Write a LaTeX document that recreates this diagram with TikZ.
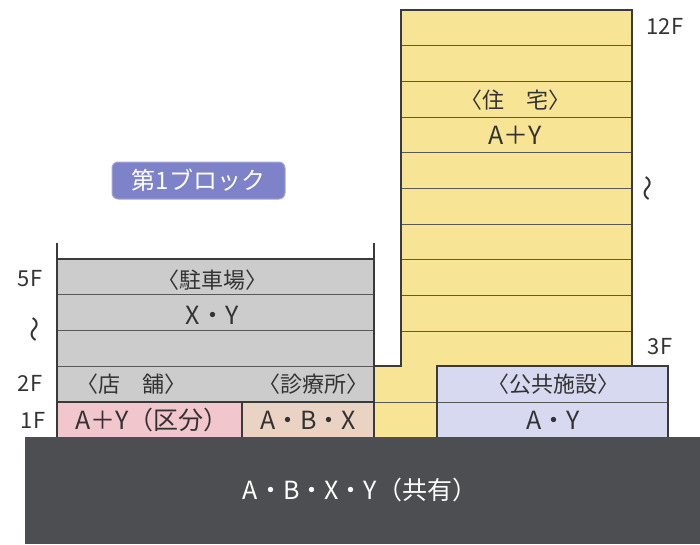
\documentclass[tikz,border=0pt]{standalone}
\usepackage{fontspec}
\setmainfont{Noto Sans CJK JP}
\definecolor{towerc}{HTML}{F8E495}
\definecolor{parkc}{HTML}{CBCCCB}
\definecolor{pinkc}{HTML}{F2C6CD}
\definecolor{beigec}{HTML}{EBD3C3}
\definecolor{lavc}{HTML}{D7D9F1}
\definecolor{basec}{HTML}{4C4E51}
\definecolor{badgec}{HTML}{7E82C9}
\definecolor{linec}{HTML}{3A3A3A}
\definecolor{txtc}{HTML}{333333}
\begin{document}
\begin{tikzpicture}[x=1pt,y=-1pt,
  lbl/.style={font=\fontsize{22}{22}\selectfont, text=txtc, inner sep=0pt},
  lat/.style={font=\fontsize{25}{25}\selectfont, text=txtc, inner sep=0pt},
  flr/.style={font=\fontsize{22}{22}\selectfont, text=txtc, inner sep=0pt},
  wave/.style={font=\fontsize{26}{26}\selectfont, text=txtc, inner sep=0pt, rotate=90},
  outline/.style={draw=linec, line width=1.3pt},
  floorline/.style={draw=linec!85, line width=0.9pt},
  wall/.style={draw=linec, line width=1.8pt}]
\path[use as bounding box] (0,0) rectangle (700,544);
% base
\fill[basec] (25,437) rectangle (700,544);
% tower
\fill[towerc] (401,10) rectangle (632,366);
\fill[towerc] (374,366) rectangle (437,437);
\foreach \y in {45,81,117,152,188,224,259,295,331}
  \draw[floorline] (401,\y) -- (632,\y);
\draw[floorline] (374,402) -- (437,402);
\draw[outline] (374,366) -- (401,366) -- (401,10) -- (632,10) -- (632,366);
% public facility
\fill[lavc] (437,366) rectangle (668,437);
\draw[floorline] (437,402) -- (668,402);
\draw[outline] (437,437) -- (437,366) -- (668,366) -- (668,437);
% parking
\fill[parkc] (57,259) rectangle (374,402);
\foreach \y in {294,330,366}
  \draw[floorline] (57,\y) -- (374,\y);
\draw[outline] (57,259) rectangle (374,402);
\draw[wall] (57,243) -- (57,259);
\draw[wall] (374,243) -- (374,259);
% 1F cells
\fill[pinkc] (57,402) rectangle (242,437);
\fill[beigec] (242,402) rectangle (374,437);
\draw[outline] (57,437) -- (57,402) -- (374,402) -- (374,437);
\draw[outline] (242,402) -- (242,437);
% badge
\node[fill=badgec, draw=badgec!70!white, line width=1pt, rounded corners=6pt,
  minimum width=173pt, minimum height=37pt, inner sep=0pt,
  font=\fontsize{24}{24}\selectfont, text=white] (badge) at (198.5,180.5) {第1ブロック};
% labels
\node[lbl] (parkname) at (212,280) {〈駐車場〉};
\node[lat] (parkown) at (212,315) {X・Y};
\node[lbl] (shopname) at (131,384) {〈店　舗〉};
\node[lbl] (clinicname) at (313,384) {〈診療所〉};
\node[lat] (shopown) at (152,420) {A＋Y（区分）};
\node[lat] (clinicown) at (308,420) {A・B・X};
\node[lbl] (housename) at (515,100) {〈住　宅〉};
\node[lat] (houseown) at (515,135) {A＋Y};
\node[lbl] (pubname) at (553,384) {〈公共施設〉};
\node[lat] (pubown) at (553,420) {A・Y};
\node[lat, text=white] (baseown) at (360,490) {A・B・X・Y（共有）};
% floor labels
\node[flr] (f5) at (30,279) {5F};
\node[flr] (f2) at (30,383) {2F};
\node[flr] (f1) at (33,420) {1F};
\node[flr] (f12) at (665,26) {12F};
\node[flr] (f3) at (660,347) {3F};
\node[wave] (w1) at (38,329) {〜};
\node[wave] (w2) at (651,188) {〜};
\end{tikzpicture}
\end{document}
